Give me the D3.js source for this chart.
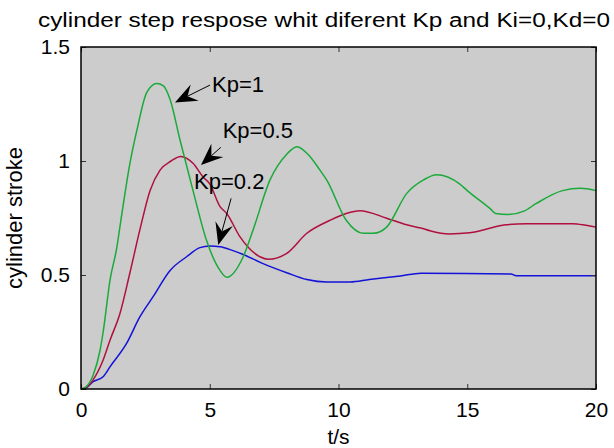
<!DOCTYPE html>
<html>
<head>
<meta charset="utf-8">
<script src="https://cdn.jsdelivr.net/npm/d3@7"></script>
<style>
  body { margin: 0; background: #fff; }
  svg text { font-family: "Liberation Sans", Arial, sans-serif; fill: #000; }
</style>
</head>
<body>
<svg id="chart" width="614" height="448"></svg>
<script>
var titleText = "cylinder step respose whit diferent Kp and Ki=0,Kd=0";
var xLabel = "t/s";
var yLabel = "cylinder stroke";
var xTicks = [0, 5, 10, 15, 20];
var yTicks = [0, 0.5, 1, 1.5];

// Kp = 1
var tKp1 = [0, 0.2, 0.47, 0.74, 0.86, 1.13, 1.39, 1.51, 1.9, 2.2, 2.55, 2.94, 3.2, 3.46, 3.85, 4.35, 4.88, 5.4, 5.66, 6.3, 6.69, 7.34, 7.99, 8.38, 8.89, 9.28, 9.54, 10.3, 10.96, 11.35, 11.87, 12.65, 13.3, 13.8, 14.7, 15.0, 15.9, 16.1, 16.6, 17.2, 17.7, 18.7, 19.4, 20];
var yKp1 = [0, 0.01, 0.06, 0.17, 0.25, 0.48, 0.62, 0.71, 0.99, 1.15, 1.30, 1.34, 1.33, 1.27, 1.09, 0.87, 0.65, 0.52, 0.49, 0.58, 0.70, 0.917, 1.03, 1.063, 1.02, 0.96, 0.917, 0.74, 0.683, 0.683, 0.71, 0.858, 0.917, 0.94, 0.90, 0.87, 0.79, 0.77, 0.765, 0.78, 0.815, 0.87, 0.88, 0.87];

// Kp = 0.5
var tKp05 = [0, 0.25, 0.47, 0.86, 1.13, 1.51, 1.9, 2.29, 2.68, 3.07, 3.5, 3.87, 4.35, 4.74, 5.0, 5.4, 5.66, 6.17, 6.95, 7.27, 7.99, 8.77, 9.67, 10.3, 10.83, 11.87, 12.65, 13.2, 13.55, 14.3, 15.1, 16.5, 17.3, 19.1, 19.6, 20];
var yKp05 = [0, 0.01, 0.04, 0.127, 0.215, 0.33, 0.51, 0.70, 0.87, 0.96, 1.0, 1.02, 0.99, 0.93, 0.90, 0.80, 0.77, 0.668, 0.58, 0.569, 0.595, 0.683, 0.74, 0.77, 0.782, 0.749, 0.72, 0.706, 0.694, 0.68, 0.685, 0.72, 0.725, 0.725, 0.718, 0.71];

// Kp = 0.2
var tKp02 = [0, 0.2, 0.47, 0.86, 1.13, 1.77, 2.29, 2.8, 3.46, 4.1, 4.62, 5.0, 5.4, 5.9, 6.3, 7.07, 7.99, 8.77, 9.54, 10.45, 11.2, 12.4, 13.2, 16.7, 16.9, 20];
var yKp02 = [0, 0.005, 0.032, 0.054, 0.098, 0.20, 0.317, 0.405, 0.52, 0.58, 0.62, 0.627, 0.624, 0.607, 0.59, 0.55, 0.51, 0.48, 0.469, 0.469, 0.48, 0.496, 0.508, 0.504, 0.497, 0.497];

var seriesNames = ["Kp=1", "Kp=0.5", "Kp=0.2"];
var seriesColors = ["#1aaa3a", "#b0103e", "#1212d8"];

// annotation: label anchor, arrow start, arrow tip (data units)
var labelT = [5.09, 5.50, 4.39];
var labelY = [1.303, 1.10, 0.877];
var arrowFromT = [5.01, 5.43, 5.83];
var arrowFromY = [1.333, 1.06, 0.836];
var arrowToT = [3.65, 4.66, 5.33];
var arrowToY = [1.257, 0.982, 0.632];

var padL = 81, padR = 596, padT = 47, padB = 389;

var svg = d3.select("#chart");
var xScale = d3.scaleLinear().domain([0, 20]).range([padL, padR]);
var yScale = d3.scaleLinear().domain([0, 1.5]).range([padB, padT]);

svg.append("rect")
  .attr("x", padL).attr("y", padT)
  .attr("width", padR - padL).attr("height", padB - padT)
  .attr("fill", "#cccccc");

var series = [
  {t: tKp1, y: yKp1},
  {t: tKp05, y: yKp05},
  {t: tKp02, y: yKp02}
];

var line = d3.line()
  .x(function(d) { return xScale(d[0]); })
  .y(function(d) { return yScale(d[1]); })
  .curve(d3.curveMonotoneX);

// draw blue first so green sits on top
[2, 1, 0].forEach(function(i) {
  var pts = series[i].t.map(function(t, k) { return [t, series[i].y[k]]; });
  svg.append("path")
    .attr("d", line(pts))
    .attr("fill", "none")
    .attr("stroke", seriesColors[i])
    .attr("stroke-width", 1.5);
});

// axes, ticks pointing inward on all four sides
function styleAxis(g) {
  g.select(".domain").remove();
  g.selectAll(".tick line").attr("stroke", "#333").attr("stroke-width", 1);
  g.selectAll(".tick text").style("font-size", "21px").attr("fill", "#000");
}

svg.append("g")
  .attr("transform", "translate(0," + padB + ")")
  .call(d3.axisBottom(xScale).tickValues(xTicks).tickSize(-5).tickPadding(13).tickFormat(d3.format("d")))
  .call(styleAxis);

svg.append("g")
  .attr("transform", "translate(0," + padT + ")")
  .call(d3.axisTop(xScale).tickValues(xTicks).tickSize(-5).tickFormat(""))
  .call(styleAxis);

svg.append("g")
  .attr("transform", "translate(" + padL + ",0)")
  .call(d3.axisLeft(yScale).tickValues(yTicks).tickSize(-5).tickPadding(11).tickFormat(function(d) { return String(d); }))
  .call(styleAxis);

svg.append("g")
  .attr("transform", "translate(" + padR + ",0)")
  .call(d3.axisRight(yScale).tickValues(yTicks).tickSize(-5).tickFormat(""))
  .call(styleAxis);

svg.append("rect")
  .attr("x", padL).attr("y", padT)
  .attr("width", padR - padL).attr("height", padB - padT)
  .attr("fill", "none")
  .attr("stroke", "#000")
  .attr("stroke-width", 1.5);

// annotations
seriesNames.forEach(function(name, i) {
  var x1 = xScale(arrowFromT[i]), y1 = yScale(arrowFromY[i]);
  var x2 = xScale(arrowToT[i]), y2 = yScale(arrowToY[i]);
  var ang = Math.atan2(y2 - y1, x2 - x1);
  var len = 22, half = 9, notch = 14;
  var bx = x2 - len * Math.cos(ang), by = y2 - len * Math.sin(ang);
  var nx = x2 - notch * Math.cos(ang), ny = y2 - notch * Math.sin(ang);
  var px = -Math.sin(ang), py = Math.cos(ang);

  svg.append("line")
    .attr("x1", x1).attr("y1", y1)
    .attr("x2", nx).attr("y2", ny)
    .attr("stroke", "#000").attr("stroke-width", 1);

  svg.append("path")
    .attr("d", "M" + x2 + "," + y2 +
      "L" + (bx + px * half) + "," + (by + py * half) +
      "L" + nx + "," + ny +
      "L" + (bx - px * half) + "," + (by - py * half) + "Z")
    .attr("fill", "#000");

  svg.append("text")
    .attr("x", xScale(labelT[i]))
    .attr("y", yScale(labelY[i]))
    .style("font-size", "22px")
    .text(name);
});

svg.append("text")
  .attr("x", 324)
  .attr("y", 27)
  .attr("text-anchor", "middle")
  .style("font-size", "20px")
  .attr("textLength", 572)
  .attr("lengthAdjust", "spacingAndGlyphs")
  .text(titleText);

svg.append("text")
  .attr("x", (padL + padR) / 2)
  .attr("y", 444)
  .attr("text-anchor", "middle")
  .style("font-size", "21px")
  .text(xLabel);

svg.append("text")
  .attr("transform", "translate(22," + ((padT + padB) / 2) + ") rotate(-90)")
  .attr("text-anchor", "middle")
  .style("font-size", "22px")
  .text(yLabel);
</script>
</body>
</html>
